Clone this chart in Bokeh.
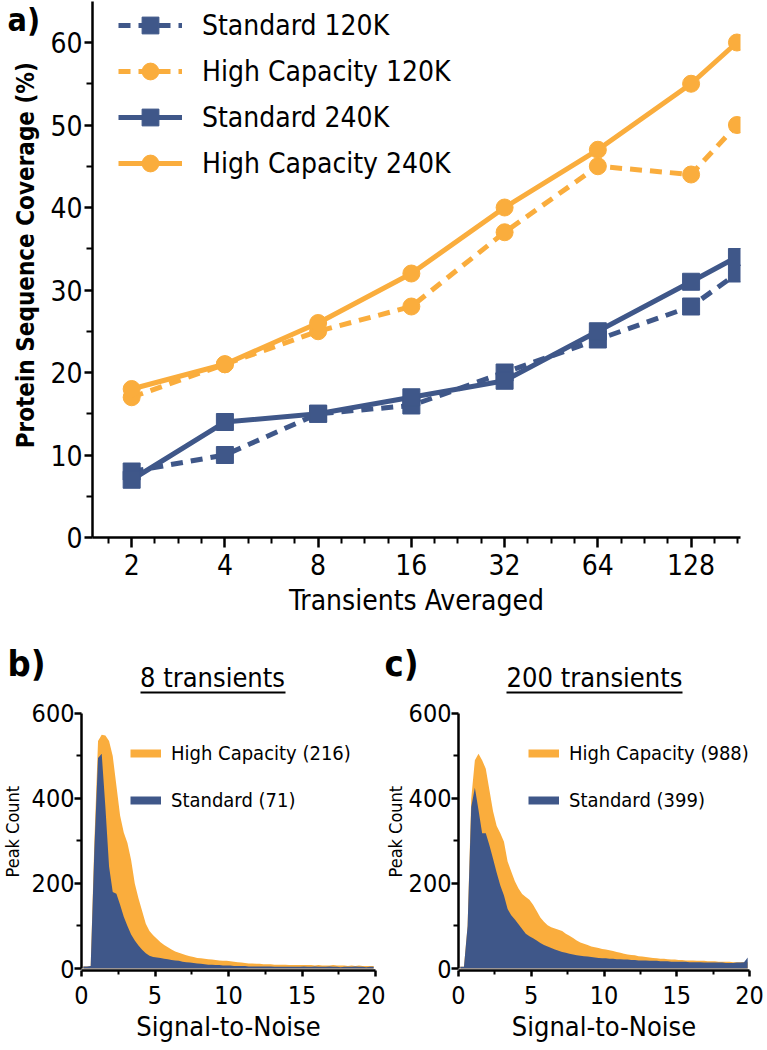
from bokeh.plotting import figure
from bokeh.layouts import column, row
from bokeh.models import (FixedTicker, Range1d, Legend, LegendItem, BasicTickFormatter)
from bokeh.core.properties import value
from bokeh.embed import file_html
from bokeh.resources import INLINE
import numpy as np

FONT = "DejaVu Sans Condensed"
ORANGE = "#FAAD3D"
BLUE = "#3F5789"

# ---------------- panel a data ----------------
transients = [2, 4, 8, 16, 32, 64, 128, 180]
x_major_ticks = [2, 4, 8, 16, 32, 64, 128]
y_major_ticks = [0, 10, 20, 30, 40, 50, 60]
y_minor_ticks = [5, 15, 25, 35, 45, 55]
standard_120k = [8, 10, 15, 16, 20, 24, 28, 32]
high_capacity_120k = [17, 21, 25, 28, 37, 45, 44, 50]
standard_240k = [7, 14, 15, 17, 19, 25, 31, 34]
high_capacity_240k = [18, 21, 26, 32, 40, 47, 55, 60]
series_labels = ["Standard 120K", "High Capacity 120K", "Standard 240K", "High Capacity 240K"]

# ---------------- panel b/c data (S/N histogram, 0.25 bins) ----------------
snr_bin_width = 0.25
snr_centers = np.arange(0.125, 20.0, snr_bin_width)

b_standard = [5, 5, 6, 280, 495, 505, 380, 240, 180, 176, 150, 122, 100, 80, 66, 54, 44, 36, 30, 27,
              26, 25, 23, 22, 20, 19, 18, 16, 15, 14, 13, 12, 11, 10, 9, 9, 8, 8, 7, 7,
              7, 6, 6, 6, 6, 5, 5, 5, 5, 5, 5, 5, 4, 4, 4, 4, 4, 4, 4, 4,
              5, 4, 4, 5, 4, 4, 4, 5, 4, 4, 3, 4, 4, 4, 5, 4, 4, 3, 4, 4]
b_high = [5, 5, 6, 300, 535, 550, 548, 535, 500, 430, 360, 320, 295, 255, 200, 165, 135, 105, 88, 78,
          70, 62, 55, 50, 45, 40, 37, 34, 31, 29, 27, 25, 24, 23, 22, 21, 20, 19, 18, 18,
          17, 16, 15, 14, 13, 12, 12, 11, 11, 10, 10, 10, 9, 9, 9, 9, 8, 8, 8, 8,
          8, 8, 8, 7, 8, 7, 7, 7, 8, 7, 7, 7, 6, 7, 6, 7, 6, 6, 6, 6]
c_standard = [4, 4, 100, 380, 425, 373, 318, 318, 290, 258, 225, 195, 172, 140, 125, 115, 104, 93, 82, 76,
              71, 66, 60, 55, 52, 48, 45, 42, 39, 37, 35, 33, 31, 30, 29, 28, 27, 26, 25, 24,
              24, 23, 23, 22, 22, 21, 21, 20, 20, 19, 19, 19, 18, 18, 18, 17, 17, 17, 16, 16,
              16, 16, 16, 15, 15, 15, 15, 14, 14, 14, 14, 14, 14, 13, 13, 13, 14, 14, 15, 26]
c_high = [4, 4, 100, 400, 490, 505, 490, 470, 420, 370, 335, 318, 298, 252, 228, 205, 188, 175, 168, 162,
          150, 135, 120, 110, 102, 97, 94, 91, 88, 82, 77, 72, 66, 61, 58, 55, 52, 50, 48, 46,
          45, 43, 41, 39, 37, 35, 33, 32, 31, 29, 28, 27, 26, 25, 24, 23, 23, 22, 21, 21,
          20, 20, 19, 19, 19, 18, 18, 18, 17, 17, 17, 16, 16, 16, 16, 15, 15, 15, 15, 15]
hist_y_ticks = [0, 200, 400, 600]
hist_y_minor = [100, 300, 500]
hist_x_ticks = [0, 5, 10, 15, 20]
hist_x_minor = [2.5, 7.5, 12.5, 17.5]
panel_letters = ["a)", "b)", "c)"]
panel_titles = ["8 transients", "200 transients"]
b_labels = ["High Capacity (216)", "Standard (71)"]
c_labels = ["High Capacity (988)", "Standard (399)"]


def style_axes(fig, tick_size, out_major, out_minor):
    for ax in (fig.xaxis, fig.yaxis):
        ax.axis_line_width = 2.5
        ax.axis_line_color = "black"
        ax.major_tick_line_width = 2.5
        ax.minor_tick_line_width = 2
        ax.major_tick_in = 0
        ax.minor_tick_in = 0
        ax.major_tick_out = out_major
        ax.minor_tick_out = out_minor
        ax.major_label_text_font = FONT
        ax.major_label_text_font_size = tick_size
        ax.major_label_text_color = "black"
        ax.axis_label_text_font = FONT
        ax.axis_label_text_color = "black"
    fig.xgrid.visible = False
    fig.ygrid.visible = False
    fig.outline_line_color = None


def text_strip(w, h, y_top):
    s = figure(width=w, height=h, x_range=Range1d(0, w), y_range=Range1d(y_top + h, y_top),
               x_axis_location=None, y_axis_location=None, min_border=0,
               output_backend="svg", toolbar_location=None)
    s.outline_line_color = None
    s.grid.visible = False
    for r in list(s.center):
        if hasattr(r, "grid_line_color"):
            r.grid_line_color = None
    return s


# ---------------- strip with "a)" and y-axis title ----------------
strip_a = text_strip(44, 625, 0)
strip_a.text(x=[7], y=[22], text=[panel_letters[0]], text_font=value(FONT), text_font_size="32px",
             text_font_style="bold", text_align="left", text_baseline="middle", text_color="black")
strip_a.text(x=[25], y=[521], text=["Protein Sequence Coverage (%)"], text_font=value(FONT),
             text_font_size="24px", text_font_style="bold", text_align="left",
             text_baseline="middle", angle=np.pi / 2, text_color="black")

# ---------------- panel a ----------------
pa = figure(frame_width=648, frame_height=536, x_axis_type="log",
            x_range=Range1d(2 ** 0.58, 2 ** 7.53), y_range=Range1d(0, 64.97),
            min_border_left=48, min_border_right=27, min_border_top=1, min_border_bottom=88,
            output_backend="svg", toolbar_location=None)
style_axes(pa, "28px", 10, 6)
pa.xaxis.ticker = FixedTicker(ticks=x_major_ticks,
                              minor_ticks=[2 ** (k / 4) for k in range(3, 31) if k % 4])
pa.xaxis.formatter = BasicTickFormatter()
pa.yaxis.ticker = FixedTicker(ticks=y_major_ticks, minor_ticks=y_minor_ticks)
pa.yaxis.major_tick_out = 8
pa.yaxis.major_label_standoff = 2
pa.xaxis.major_label_standoff = 6
pa.xaxis.axis_label = "Transients Averaged"
pa.xaxis.axis_label_text_font_size = "28px"
pa.xaxis.axis_label_text_font_style = "normal"
pa.xaxis.axis_label_standoff = 6

dash = "12 8"
l1 = pa.line(transients, standard_120k, color=BLUE, line_width=5, line_dash=dash)
m1 = pa.scatter(transients, standard_120k, marker="square", size=17, color=BLUE)
l2 = pa.line(transients, high_capacity_120k, color=ORANGE, line_width=5, line_dash=dash)
m2 = pa.scatter(transients, high_capacity_120k, marker="circle", size=17, color=ORANGE)
l3 = pa.line(transients, standard_240k, color=BLUE, line_width=5)
m3 = pa.scatter(transients, standard_240k, marker="square", size=17, color=BLUE)
l4 = pa.line(transients, high_capacity_240k, color=ORANGE, line_width=5)
m4 = pa.scatter(transients, high_capacity_240k, marker="circle", size=17, color=ORANGE)

leg_a = Legend(items=[LegendItem(label=series_labels[0], renderers=[l1, m1]),
                      LegendItem(label=series_labels[1], renderers=[l2, m2]),
                      LegendItem(label=series_labels[2], renderers=[l3, m3]),
                      LegendItem(label=series_labels[3], renderers=[l4, m4])],
               location=(26, 353), glyph_width=64, glyph_height=42, label_height=42,
               spacing=4, label_standoff=20, padding=0, margin=0,
               border_line_color=None, background_fill_alpha=0,
               label_text_font=FONT, label_text_font_size="28px", label_text_color="black")
pa.add_layout(leg_a)

# ---------------- header strip for panels b and c ----------------
hdr = text_strip(767, 73, 625)
hdr.text(x=[7, 384], y=[663, 663], text=panel_letters[1:], text_font=value(FONT),
         text_font_size="36px", text_font_style="bold", text_align="left",
         text_baseline="middle", text_color="black")
hdr.text(x=[212, 594], y=[677, 677], text=panel_titles, text_font=value(FONT),
         text_font_size="27px", text_align="center", text_baseline="middle", text_color="black")
hdr.segment(x0=[140, 506], y0=[692, 692], x1=[285, 682], y1=[692, 692],
            line_color="black", line_width=2)


# ---------------- "Peak Count" strips ----------------
def peak_strip(w, x_center):
    s = text_strip(w, 352, 698)
    s.text(x=[x_center], y=[924], text=["Peak Count"], text_font=value(FONT),
           text_font_size="18px", text_align="left", text_baseline="middle",
           angle=np.pi / 2, text_color="black")
    return s


strip_b = peak_strip(26, 12)
strip_c = peak_strip(20, 10)


# ---------------- panels b and c ----------------
def hist_panel(std, high, labels, border_left, border_right, frame_w, leg_x):
    p = figure(frame_width=frame_w, frame_height=260,
               x_range=Range1d(0, 20), y_range=Range1d(-4.7, 607),
               min_border_left=border_left, min_border_right=border_right,
               min_border_top=12, min_border_bottom=80,
               output_backend="svg", toolbar_location=None)
    style_axes(p, "25px", 6, 4)
    p.xaxis.ticker = FixedTicker(ticks=hist_x_ticks, minor_ticks=hist_x_minor)
    p.yaxis.ticker = FixedTicker(ticks=hist_y_ticks, minor_ticks=hist_y_minor)
    p.xaxis.bounds = (0, 20)
    p.yaxis.bounds = (0, 600)
    p.yaxis.major_tick_out = 7
    p.yaxis.minor_tick_out = 5
    p.yaxis.major_label_standoff = 0
    p.xaxis.major_label_standoff = 9
    p.xaxis.axis_label = "Signal-to-Noise"
    p.xaxis.axis_label_text_font_size = "27px"
    p.xaxis.axis_label_text_font_style = "normal"
    p.xaxis.axis_label_standoff = 4

    p.varea(x=snr_centers, y1=0, y2=high, fill_color=ORANGE)
    p.varea(x=snr_centers, y1=0, y2=std, fill_color=BLUE)

    # legend keys (no visible data)
    dh = p.line(x=[np.nan], y=[np.nan], color=ORANGE, line_width=8)
    ds = p.line(x=[np.nan], y=[np.nan], color=BLUE, line_width=8)
    leg = Legend(items=[LegendItem(label=labels[0], renderers=[dh]),
                        LegendItem(label=labels[1], renderers=[ds])],
                 location=(leg_x, 155), glyph_width=31, glyph_height=30, label_height=30,
                 spacing=17, label_standoff=10, padding=0, margin=0,
                 border_line_color=None, background_fill_alpha=0,
                 label_text_font=FONT, label_text_font_size="20px", label_text_color="black")
    p.add_layout(leg)
    return p


pb = hist_panel(b_standard, b_high, b_labels, 55, 10, 294, 49)
pc = hist_panel(c_standard, c_high, c_labels, 52, 19, 291, 70)

layout = column(row(strip_a, pa, spacing=0), hdr,
                row(strip_b, pb, strip_c, pc, spacing=0), spacing=0)
open("out.html", "w").write(file_html(layout, INLINE))
